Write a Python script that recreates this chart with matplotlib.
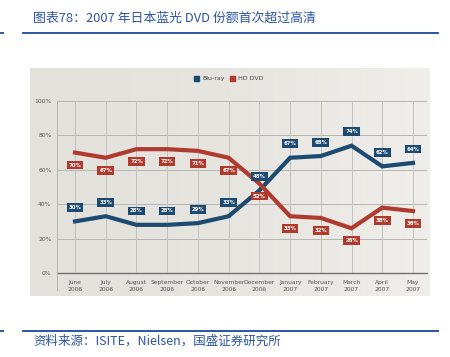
import numpy as np
import matplotlib
matplotlib.use("Agg")
from matplotlib import pyplot as plt
from matplotlib.lines import Line2D
from matplotlib.patches import Rectangle

months = ["June\n2006", "July\n2006", "August\n2006", "September\n2006",
          "October\n2006", "November\n2006", "December\n2006", "January\n2007",
          "February\n2007", "March\n2007", "April\n2007", "May\n2007"]
bluray = [30, 33, 28, 28, 29, 33, 48, 67, 68, 74, 62, 64]
hddvd = [70, 67, 72, 72, 71, 67, 52, 33, 32, 26, 38, 36]
yticks = [0, 20, 40, 60, 80, 100]

title = "图表78：2007 年日本蓝光 DVD 份额首次超过高清"
source = "资料来源：ISITE，Nielsen，国盛证券研究所"

W, H = 450, 357
BLUE = "#1d4a70"
RED = "#b03a2e"
HEAD = "#2b56a3"
TICK = "#555555"

plt.rcParams["font.family"] = ["Noto Sans CJK SC", "DejaVu Sans"]

fig = plt.figure(figsize=(W / 100, H / 100), dpi=100)


def box(l, t, r, b):
    return [l / W, 1 - b / H, (r - l) / W, (b - t) / H]


# header / footer
fig.text(33 / W, 1 - 18 / H, title, color=HEAD, fontsize=9.3, style="italic",
         va="center", ha="left")
fig.add_artist(Line2D([23 / W, 438 / W], [1 - 33 / H] * 2, color=HEAD, lw=1.4))
fig.add_artist(Line2D([0, 3 / W], [1 - 33 / H] * 2, color=HEAD, lw=1.4))
fig.add_artist(Line2D([23 / W, 438 / W], [1 - 331 / H] * 2, color=HEAD, lw=1.4))
fig.add_artist(Line2D([0, 3 / W], [1 - 331 / H] * 2, color=HEAD, lw=1.4))
fig.text(33 / W, 1 - 341 / H, source, color=HEAD, fontsize=9, style="italic",
         va="center", ha="left")

# grey panel behind the chart
bg = fig.add_axes(box(30, 68, 430, 296))
grad = np.linspace(0, 1, 200)[None, :]
bg.imshow(grad, aspect="auto", extent=(0, 1, 0, 1),
          cmap=matplotlib.colors.LinearSegmentedColormap.from_list(
              "g", ["#e3e1db", "#e7e5e0", "#efeeea"]))
bg.set_xlim(0, 1)
bg.set_ylim(0, 1)
bg.axis("off")

# legend
for x0, lab, c in [(197, "Blu-ray", BLUE), (233, "HD DVD", RED)]:
    bg.add_patch(Rectangle(((x0 - 30 - 2.5) / 400, (296 - 78 - 2.5) / 228),
                           5 / 400, 5 / 228, color=c))
    bg.text((x0 - 30 + 5) / 400, (296 - 78) / 228, lab, fontsize=4.5,
            color="#444444", va="center", ha="left", family="DejaVu Sans")

ax = fig.add_axes(box(57, 101, 427, 273))
ax.patch.set_alpha(0)
x = np.arange(len(months))
ax.set_xlim(-0.586, 11.456)
ax.set_ylim(0, 100)

for v in yticks[1:]:
    ax.axhline(v, color="#b5b5b2", lw=0.7, zorder=1)
ax.axhline(0, color="#707070", lw=1.0, zorder=1, clip_on=False)
for xi in x:
    ax.plot([xi, xi], [0, 100], color="#c2c2be", lw=0.7, zorder=1)
ax.plot([-0.586, -0.586], [-10, 100], color="#b5b5b2", lw=0.7, zorder=1,
        clip_on=False)

ax.plot(x, bluray, color=BLUE, lw=3.0, zorder=3, solid_joinstyle="miter")
ax.plot(x, hddvd, color=RED, lw=3.0, zorder=3, solid_joinstyle="miter")

for xi, v in zip(x, bluray):
    ax.annotate(f"{v}%", (xi, v), xytext=(0, 10), textcoords="offset points",
                ha="center", va="center", fontsize=3.9, color="white",
                fontweight="bold", family="DejaVu Sans", zorder=5,
                bbox=dict(boxstyle="square,pad=0.35", fc=BLUE, ec="none"))
for xi, v in zip(x, hddvd):
    ax.annotate(f"{v}%", (xi, v), xytext=(0, -9), textcoords="offset points",
                ha="center", va="center", fontsize=3.9, color="white",
                fontweight="bold", family="DejaVu Sans", zorder=5,
                bbox=dict(boxstyle="square,pad=0.35", fc=RED, ec="none"))

ax.set_xticks(x)
ax.set_xticklabels(months, fontsize=4.3, color=TICK, family="DejaVu Sans",
                   linespacing=1.6)
ax.set_yticks(yticks)
ax.set_yticklabels([f"{v}%" for v in yticks], fontsize=4.3, color=TICK,
                   family="DejaVu Sans")
ax.tick_params(length=0, pad=5)
ax.tick_params(axis="y", pad=4)
for s in ax.spines.values():
    s.set_visible(False)

fig.savefig("out.png", dpi=100)
